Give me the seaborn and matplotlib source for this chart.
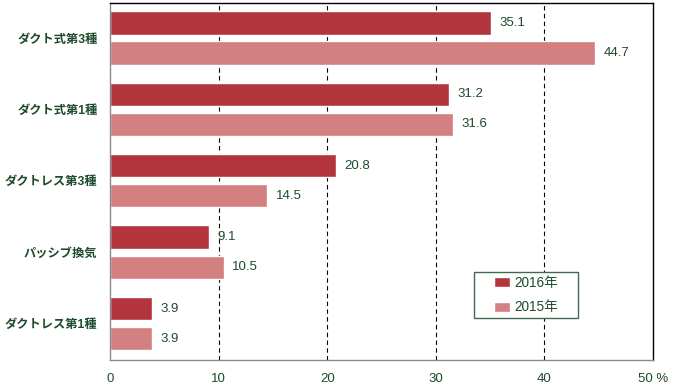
import matplotlib
matplotlib.use("Agg")
import matplotlib.pyplot as plt
from matplotlib.patches import Rectangle
import pandas as pd
import seaborn as sns

# データ
categories = ["ダクト式第3種", "ダクト式第1種", "ダクトレス第3種", "パッシブ換気", "ダクトレス第1種"]
values_2016 = [35.1, 31.2, 20.8, 9.1, 3.9]
values_2015 = [44.7, 31.6, 14.5, 10.5, 3.9]
series = ["2016年", "2015年"]
xticks = [0, 10, 20, 30, 40, 50]
xtick_labels = ["0", "10", "20", "30", "40", "50 %"]

TEXT = "#1e4a2c"
colors = {"2016年": "#b2353d", "2015年": "#d47f80"}

df = pd.DataFrame({
    "category": categories * 2,
    "year": [series[0]] * len(categories) + [series[1]] * len(categories),
    "value": values_2016 + values_2015,
})

sns.set_style("white")
plt.rcParams["font.family"] = ["Liberation Sans", "Noto Sans CJK JP", "DejaVu Sans"]

fig = plt.figure(figsize=(6.89, 3.91), dpi=100)
ax = fig.add_axes([110 / 689, 1 - 360 / 391, 543 / 689, 357 / 391])

sns.barplot(data=df, y="category", x="value", hue="year", orient="h",
            palette=colors, width=0.845, gap=0.23, saturation=1,
            order=categories, hue_order=series, ax=ax, legend=True)

for cont in ax.containers:
    ax.bar_label(cont, fmt="%.1f", padding=6, color=TEXT, fontsize=9.5)

ax.set_xlim(0, 50)
ax.set_ylim(4.51, -0.49)
ax.set_xticks(xticks)
ax.set_xticklabels(xtick_labels)
ax.set_xlabel("")
ax.set_ylabel("")
for x in xticks[1:-1]:
    ax.axvline(x, color="black", linestyle=(0, (4, 3)), linewidth=0.8, zorder=0)

ax.tick_params(axis="x", length=0, pad=9, labelsize=9.5, labelcolor=TEXT)
ax.tick_params(axis="y", length=0, pad=9, labelsize=8.8, labelcolor=TEXT)
for lbl in ax.get_yticklabels():
    lbl.set_fontweight("bold")

for side in ["top", "right"]:
    ax.spines[side].set_visible(True)
    ax.spines[side].set_color("black")
    ax.spines[side].set_linewidth(1.0)
for side in ["left", "bottom"]:
    ax.spines[side].set_color("#8a8a8a")
    ax.spines[side].set_linewidth(1.0)

# 凡例（枠は別に描いて横方向の余白を広げる）
leg = ax.legend(loc="center", bbox_to_anchor=(0.766, 0.182), frameon=False,
                fontsize=9.8, handlelength=1.15, handleheight=0.75,
                labelspacing=0.8, borderpad=0.2, handletextpad=0.35,
                borderaxespad=0)
leg.set_zorder(6)
for t in leg.get_texts():
    t.set_color(TEXT)

fig.canvas.draw()
bb = leg.get_window_extent().transformed(ax.transAxes.inverted())
px, py = 17 / 543, 1 / 357
ax.add_patch(Rectangle((bb.x0 - px, bb.y0 - py), bb.width + 2 * px, bb.height + 2 * py,
                       transform=ax.transAxes, facecolor="white", edgecolor="#3f6b4d",
                       linewidth=1.0, zorder=5))

fig.savefig("out.png", dpi=100)
